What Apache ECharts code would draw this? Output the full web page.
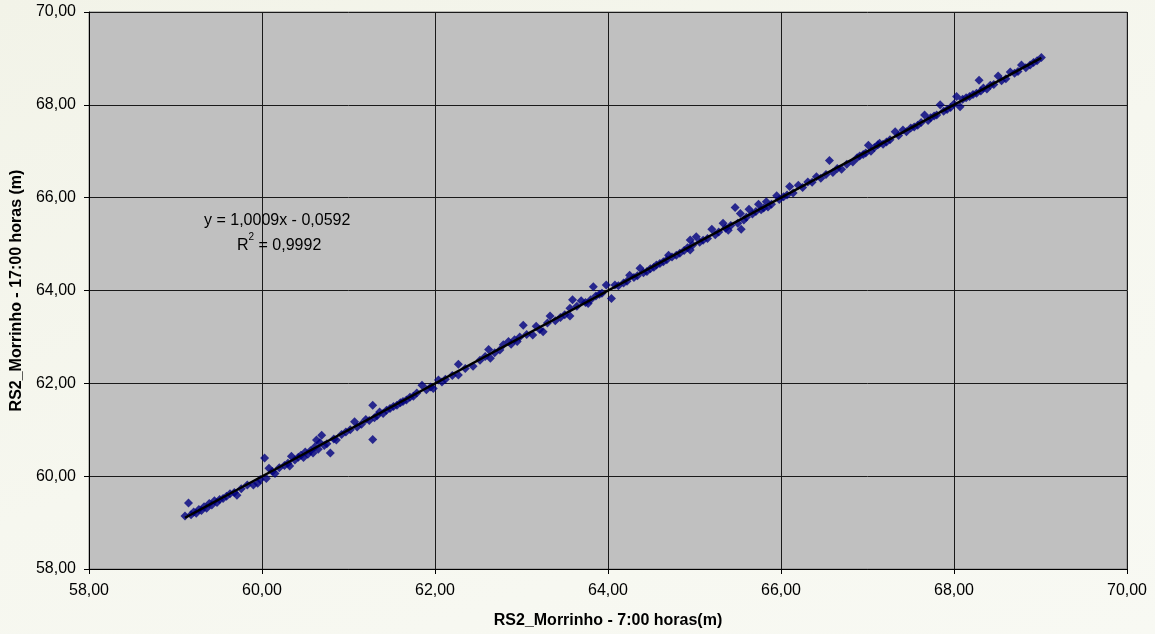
<!DOCTYPE html>
<html>
<head>
<meta charset="utf-8">
<script src="https://cdn.jsdelivr.net/npm/echarts@6/dist/echarts.min.js"></script>
<style>
html,body{margin:0;padding:0;}
body{background:linear-gradient(160deg,#f2f3e8 0%,#f6f7ef 50%,#f8f9f3 100%);}
#chart{width:1155px;height:634px;}
</style>
</head>
<body>
<div id="chart"></div>
<script>
const xTitle = "RS2_Morrinho - 7:00 horas(m)";
const yTitle = "RS2_Morrinho - 17:00 horas (m)";
const axisMin = 58, axisMax = 70, axisStep = 2;
const slope = 1.0009, intercept = -0.0592, r2 = 0.9992;

const xVals = [
59.11,59.15,59.18,59.21,59.24,59.27,59.30,59.33,59.36,59.39,59.42,59.45,59.48,59.51,59.55,59.59,59.63,59.68,59.71,59.76,59.83,59.90,59.95,59.98,
60.03,60.05,60.08,60.12,60.15,60.20,60.26,60.30,60.32,60.34,60.38,60.42,60.45,60.48,60.50,60.53,60.56,60.59,60.61,60.63,60.65,60.67,60.69,60.72,60.75,60.79,60.83,60.86,60.92,60.97,
61.02,61.07,61.10,61.15,61.20,61.24,61.28,61.28,61.30,61.33,61.36,61.40,61.44,61.48,61.52,61.56,61.60,61.63,61.67,61.71,61.75,61.79,61.85,61.90,61.95,61.98,
62.04,62.08,62.12,62.20,62.27,62.27,62.35,62.44,62.52,62.58,62.62,62.64,62.69,62.75,62.79,62.85,62.88,62.92,62.95,62.98,
63.02,63.06,63.13,63.17,63.21,63.25,63.30,63.33,63.39,63.45,63.50,63.56,63.56,63.59,63.64,63.69,63.74,63.77,63.80,63.83,63.86,63.90,63.93,63.98,
64.04,64.08,64.12,64.18,64.22,64.25,64.30,64.34,64.37,64.41,64.45,64.49,64.53,64.56,64.60,64.64,64.68,64.70,64.74,64.79,64.83,64.88,64.92,64.95,64.95,64.98,
65.02,65.06,65.10,65.15,65.20,65.24,65.28,65.33,65.36,65.39,65.42,65.47,65.50,65.53,65.54,65.57,65.60,65.63,65.67,65.71,65.74,65.77,65.80,65.83,65.85,65.89,65.95,65.98,
66.03,66.07,66.10,66.14,66.20,66.25,66.31,66.36,66.41,66.46,66.52,66.56,66.60,66.65,66.70,66.76,66.83,66.88,66.91,66.95,66.98,
67.01,67.04,67.08,67.12,67.14,67.18,67.22,67.26,67.32,67.36,67.41,67.45,67.50,67.54,67.58,67.62,67.66,67.70,67.73,67.77,67.80,67.84,67.88,67.92,67.96,
68.00,68.03,68.07,68.10,68.14,68.18,68.22,68.26,68.29,68.31,68.34,68.38,68.42,68.46,68.51,68.55,68.60,68.65,68.70,68.74,68.78,68.83,68.88,68.92,68.96,69.01
];
const yVals = [
59.14,59.42,59.17,59.23,59.20,59.28,59.26,59.34,59.31,59.41,59.38,59.47,59.43,59.50,59.52,59.57,59.62,59.65,59.59,59.73,59.81,59.81,59.85,59.93,
60.39,59.95,60.17,60.10,60.06,60.18,60.23,60.28,60.22,60.43,60.35,60.41,60.45,60.40,60.52,60.47,60.55,60.50,60.63,60.78,60.58,60.72,60.88,60.66,60.70,60.50,60.80,60.78,60.90,60.95,
61.00,61.17,61.06,61.12,61.22,61.20,61.53,60.79,61.26,61.30,61.38,61.35,61.42,61.46,61.50,61.53,61.58,61.61,61.64,61.70,61.72,61.79,61.96,61.86,61.92,61.89,
62.07,62.03,62.09,62.17,62.41,62.18,62.32,62.37,62.50,62.58,62.73,62.54,62.66,62.72,62.83,62.90,62.84,62.94,62.90,63.00,
63.25,63.05,63.04,63.23,63.16,63.11,63.30,63.45,63.35,63.42,63.48,63.45,63.62,63.80,63.66,63.78,63.74,63.72,63.80,64.08,63.88,63.92,63.94,64.12,
63.83,64.12,64.10,64.16,64.20,64.33,64.28,64.32,64.48,64.38,64.41,64.47,64.50,64.55,64.58,64.62,64.66,64.76,64.72,64.76,64.80,64.86,64.92,65.09,64.87,64.98,
65.16,65.04,65.08,65.12,65.32,65.20,65.26,65.45,65.34,65.30,65.40,65.79,65.45,65.66,65.32,65.52,65.58,65.75,65.65,65.70,65.86,65.74,65.78,65.91,65.80,65.86,66.04,65.96,
66.02,66.06,66.24,66.10,66.27,66.22,66.34,66.33,66.45,66.42,66.50,66.80,66.54,66.63,66.61,66.72,66.77,66.86,66.90,66.93,66.96,
67.13,67.00,67.08,67.14,67.17,67.15,67.20,67.25,67.42,67.34,67.46,67.42,67.50,67.52,67.56,67.62,67.78,67.66,67.72,67.76,67.78,68.00,67.86,67.90,67.94,
68.02,68.18,67.96,68.12,68.15,68.18,68.22,68.25,68.53,68.30,68.36,68.34,68.42,68.44,68.62,68.52,68.56,68.71,68.68,68.72,68.86,68.80,68.86,68.91,68.95,69.02
];

const points = xVals.map((x, i) => [x, yVals[i]]);
const xMinData = Math.min(...xVals), xMaxData = Math.max(...xVals);
const trend = [[xMinData, slope * xMinData + intercept], [xMaxData, slope * xMaxData + intercept]];
const fmt = v => v.toFixed(2).replace('.', ',');
const fmt4 = v => v.toFixed(4).replace('.', ',');

const chart = echarts.init(document.getElementById('chart'), null, {renderer: 'canvas'});
const font = 'Liberation Sans, Arial, sans-serif';

chart.setOption({
  backgroundColor: 'transparent',
  animation: false,
  grid: {
    left: 89, right: 28, top: 12, bottom: 65,
    show: true, backgroundColor: '#c0c0c0', borderColor: '#808080', borderWidth: 1
  },
  xAxis: {
    type: 'value', min: axisMin, max: axisMax, interval: axisStep,
    name: xTitle, nameLocation: 'middle', nameGap: 44,
    nameTextStyle: {fontFamily: font, fontSize: 16, fontWeight: 'bold', color: '#000'},
    axisLine: {show: true, onZero: false, lineStyle: {color: '#000', width: 1}},
    axisTick: {show: true, inside: false, length: 5, lineStyle: {color: '#000'}},
    axisLabel: {fontFamily: font, fontSize: 16, color: '#000', margin: 14, formatter: fmt},
    splitLine: {show: true, lineStyle: {color: '#1a1a1a', width: 1}}
  },
  yAxis: {
    type: 'value', min: axisMin, max: axisMax, interval: axisStep,
    name: yTitle, nameLocation: 'middle', nameGap: 64, nameRotate: 90,
    nameTextStyle: {fontFamily: font, fontSize: 16, fontWeight: 'bold', color: '#000'},
    axisLine: {show: true, onZero: false, lineStyle: {color: '#000', width: 1}},
    axisTick: {show: true, inside: false, length: 5, lineStyle: {color: '#000'}},
    axisLabel: {fontFamily: font, fontSize: 16, color: '#000', margin: 13, formatter: fmt},
    splitLine: {show: true, lineStyle: {color: '#1a1a1a', width: 1}}
  },
  series: [
    {
      type: 'scatter', data: points, symbol: 'diamond', symbolSize: 9,
      itemStyle: {color: '#000080'}, z: 3
    },
    {
      type: 'line', data: trend, symbol: 'none',
      lineStyle: {color: '#000', width: 2.5}, z: 4
    }
  ],
  graphic: [
    {
      type: 'text', left: 204, top: 213, z: 10,
      style: {text: 'y = ' + fmt4(slope) + 'x - ' + fmt4(-intercept), font: '16px ' + font, fill: '#000'}
    },
    {
      type: 'text', left: 237, top: 232, z: 10,
      style: {
        text: '{b|R}{s|2}{b| = ' + fmt4(r2) + '}',
        rich: {
          b: {font: '16px ' + font, fill: '#000', verticalAlign: 'bottom', lineHeight: 22},
          s: {font: '10px ' + font, fill: '#000', verticalAlign: 'top', lineHeight: 22}
        }
      }
    }
  ]
});
</script>
</body>
</html>
